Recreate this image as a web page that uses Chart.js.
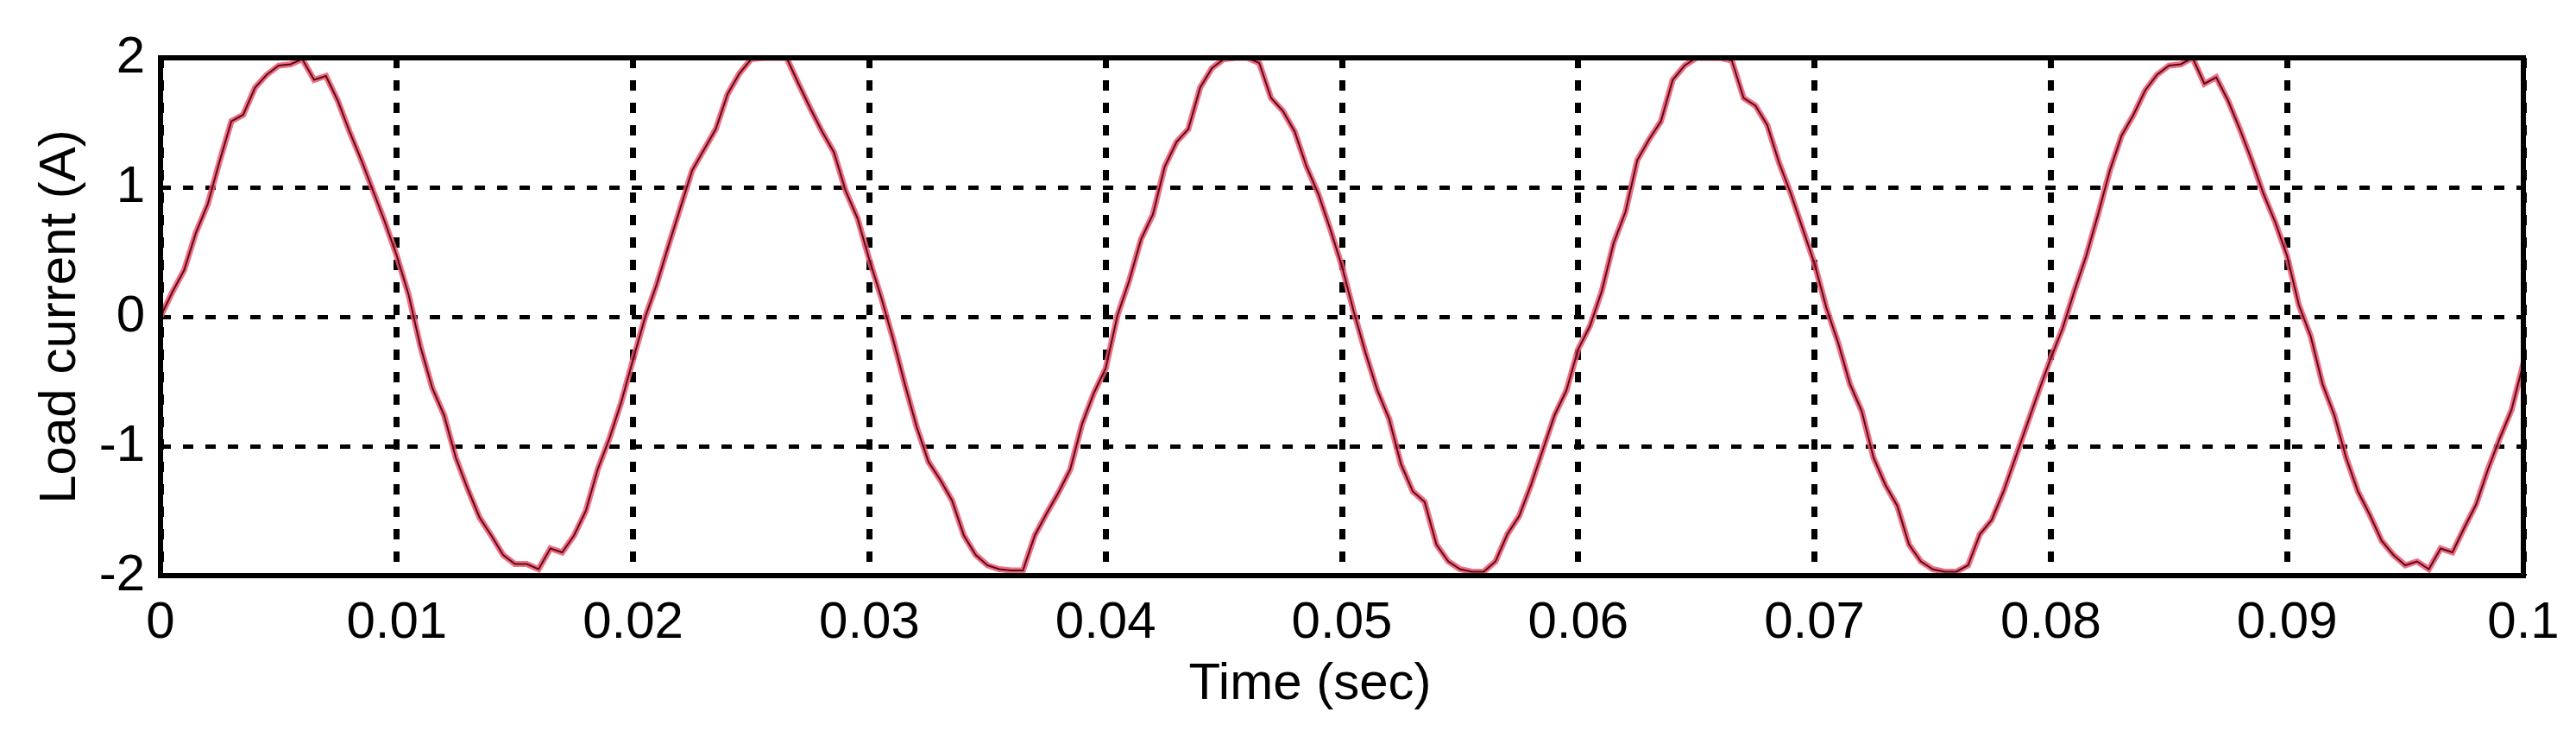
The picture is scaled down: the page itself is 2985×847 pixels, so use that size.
<!DOCTYPE html>
<html>
<head>
<meta charset="utf-8">
<title>Load current</title>
<script src="https://cdn.jsdelivr.net/npm/chart.js@4.4.1/dist/chart.umd.min.js"></script>
<style>
  html, body { margin: 0; padding: 0; background: #ffffff; }
  #wrap { width: 2985px; height: 847px; }
</style>
</head>
<body>
<div id="wrap"><canvas id="chart" width="2985" height="847"></canvas></div>
<script>
// Sample times (sec), read every 0.5 ms
const timeSec = [
  0, 0.0005, 0.001, 0.0015, 0.002, 0.0025, 0.003, 0.0035, 0.004, 0.0045,
  0.005, 0.0055, 0.006, 0.0065, 0.007, 0.0075, 0.008, 0.0085, 0.009, 0.0095,
  0.01, 0.0105, 0.011, 0.0115, 0.012, 0.0125, 0.013, 0.0135, 0.014, 0.0145,
  0.015, 0.0155, 0.016, 0.0165, 0.017, 0.0175, 0.018, 0.0185, 0.019, 0.0195,
  0.02, 0.0205, 0.021, 0.0215, 0.022, 0.0225, 0.023, 0.0235, 0.024, 0.0245,
  0.025, 0.0255, 0.026, 0.0265, 0.027, 0.0275, 0.028, 0.0285, 0.029, 0.0295,
  0.03, 0.0305, 0.031, 0.0315, 0.032, 0.0325, 0.033, 0.0335, 0.034, 0.0345,
  0.035, 0.0355, 0.036, 0.0365, 0.037, 0.0375, 0.038, 0.0385, 0.039, 0.0395,
  0.04, 0.0405, 0.041, 0.0415, 0.042, 0.0425, 0.043, 0.0435, 0.044, 0.0445,
  0.045, 0.0455, 0.046, 0.0465, 0.047, 0.0475, 0.048, 0.0485, 0.049, 0.0495,
  0.05, 0.0505, 0.051, 0.0515, 0.052, 0.0525, 0.053, 0.0535, 0.054, 0.0545,
  0.055, 0.0555, 0.056, 0.0565, 0.057, 0.0575, 0.058, 0.0585, 0.059, 0.0595,
  0.06, 0.0605, 0.061, 0.0615, 0.062, 0.0625, 0.063, 0.0635, 0.064, 0.0645,
  0.065, 0.0655, 0.066, 0.0665, 0.067, 0.0675, 0.068, 0.0685, 0.069, 0.0695,
  0.07, 0.0705, 0.071, 0.0715, 0.072, 0.0725, 0.073, 0.0735, 0.074, 0.0745,
  0.075, 0.0755, 0.076, 0.0765, 0.077, 0.0775, 0.078, 0.0785, 0.079, 0.0795,
  0.08, 0.0805, 0.081, 0.0815, 0.082, 0.0825, 0.083, 0.0835, 0.084, 0.0845,
  0.085, 0.0855, 0.086, 0.0865, 0.087, 0.0875, 0.088, 0.0885, 0.089, 0.0895,
  0.09, 0.0905, 0.091, 0.0915, 0.092, 0.0925, 0.093, 0.0935, 0.094, 0.0945,
  0.095, 0.0955, 0.096, 0.0965, 0.097, 0.0975, 0.098, 0.0985, 0.099, 0.0995,
  0.1
];

// Load current (A) at each sample
const loadCurrent = [
  0, 0.19, 0.36, 0.65, 0.87, 1.2, 1.51, 1.56, 1.77, 1.87,
  1.94, 1.95, 1.99, 1.83, 1.86, 1.67, 1.43, 1.21, 0.97, 0.73,
  0.47, 0.17, -0.23, -0.55, -0.76, -1.09, -1.33, -1.55, -1.69, -1.84,
  -1.91, -1.91, -1.95, -1.79, -1.82, -1.69, -1.5, -1.18, -0.94, -0.66,
  -0.33, -0.01, 0.25, 0.55, 0.84, 1.13, 1.29, 1.45, 1.72, 1.88,
  1.99, 2.0, 2.0, 2.0, 1.8, 1.61, 1.43, 1.27, 0.97, 0.76,
  0.44, 0.15, -0.17, -0.52, -0.85, -1.12, -1.26, -1.42, -1.69, -1.84,
  -1.92, -1.95, -1.96, -1.96, -1.69, -1.52, -1.36, -1.18, -0.83, -0.59,
  -0.4, 0.01, 0.28, 0.6, 0.79, 1.16, 1.35, 1.45, 1.77, 1.92,
  1.99, 2.0, 2.0, 1.96, 1.69, 1.59, 1.43, 1.16, 0.95, 0.68,
  0.39, 0.04, -0.28, -0.57, -0.79, -1.14, -1.35, -1.43, -1.76, -1.89,
  -1.95, -1.97, -1.97, -1.89, -1.68, -1.54, -1.3, -1.03, -0.76, -0.57,
  -0.25, -0.07, 0.2, 0.57, 0.81, 1.21, 1.37, 1.51, 1.83, 1.94,
  2.0, 2.0, 2.0, 1.98, 1.69, 1.63, 1.48, 1.19, 0.95, 0.68,
  0.41, 0.07, -0.2, -0.52, -0.73, -1.09, -1.3, -1.46, -1.76, -1.89,
  -1.95, -1.97, -1.97, -1.92, -1.68, -1.57, -1.35, -1.09, -0.83, -0.57,
  -0.32, -0.09, 0.2, 0.47, 0.79, 1.13, 1.4, 1.56, 1.75, 1.87,
  1.94, 1.95, 2.0, 1.8, 1.85, 1.67, 1.45, 1.21, 0.95, 0.73,
  0.47, 0.09, -0.15, -0.52, -0.76, -1.09, -1.35, -1.53, -1.73, -1.84,
  -1.92, -1.89, -1.95, -1.79, -1.82, -1.63, -1.45, -1.18, -0.94, -0.72,
  -0.36
];

// Axis ranges and ticks
const xRange = [0, 0.1];
const xStep = 0.01;
const yRange = [-2, 2];
const yStep = 1;

const xTitle = "Time (sec)";
const yTitle = "Load current (A)";

const FONT = "'Liberation Sans', Arial, sans-serif";

// Frame around the plot area (MATLAB style box)
const boxPlugin = {
  id: "box",
  afterDatasetsDraw(chart) {
    const { ctx, chartArea } = chart;
    ctx.save();
    ctx.strokeStyle = "#000";
    ctx.lineWidth = 6;
    ctx.strokeRect(chartArea.left, chartArea.top,
      chartArea.right - chartArea.left, chartArea.bottom - chartArea.top);
    ctx.restore();
  }
};

// x label sits a little left of the axis centre in the original figure
const xTitlePlugin = {
  id: "xTitle",
  afterDraw(chart) {
    const { ctx, chartArea } = chart;
    ctx.save();
    ctx.font = `60px ${FONT}`;
    ctx.fillStyle = "#000";
    ctx.textAlign = "center";
    ctx.textBaseline = "middle";
    ctx.fillText(xTitle, (chartArea.left + chartArea.right) / 2 - 37, chartArea.bottom + 126);
    ctx.restore();
  }
};

const points = timeSec.map((t, i) => ({ x: t, y: loadCurrent[i] }));

new Chart(document.getElementById("chart"), {
  type: "line",
  data: {
    datasets: [
      {
        // dark core of the trace
        data: points,
        borderColor: "#5c0a16",
        borderWidth: 2,
        pointRadius: 0,
        tension: 0,
        fill: false
      },
      {
        // reddish halo around it
        data: points,
        borderColor: "rgba(236, 86, 112, 0.85)",
        borderWidth: 7,
        pointRadius: 0,
        tension: 0,
        fill: false
      }
    ]
  },
  options: {
    responsive: false,
    animation: false,
    events: [],
    layout: { padding: { top: 67, right: 61, left: 0, bottom: 0 } },
    plugins: {
      legend: { display: false },
      tooltip: { enabled: false }
    },
    scales: {
      x: {
        type: "linear",
        min: xRange[0],
        max: xRange[1],
        afterFit: (scale) => { scale.height = 180; },
        afterBuildTicks: (scale) => {
          const ticks = [];
          for (let v = xRange[0]; v <= xRange[1] + 1e-9; v += xStep) {
            ticks.push({ value: Number(v.toFixed(2)) });
          }
          scale.ticks = ticks;
        },
        border: { display: false, dash: [12, 14] },
        grid: {
          color: "#000",
          lineWidth: 7,
          drawTicks: false
        },
        ticks: {
          color: "#000",
          font: { family: FONT, size: 60 },
          padding: 19,
          maxRotation: 0,
          autoSkip: false,
          callback: (v) => String(Number(Number(v).toFixed(2)))
        },
        title: { display: false }
      },
      y: {
        min: yRange[0],
        max: yRange[1],
        afterFit: (scale) => { scale.width = 186; },
        ticks: {
          stepSize: yStep,
          color: "#000",
          font: { family: FONT, size: 60 },
          padding: 18
        },
        border: { display: false, dash: [12, 14] },
        grid: {
          color: "#000",
          lineWidth: 5,
          drawTicks: false
        },
        title: {
          display: true,
          text: yTitle,
          color: "#000",
          font: { family: FONT, size: 60 },
          padding: { top: 34, bottom: 0 }
        }
      }
    }
  },
  plugins: [boxPlugin, xTitlePlugin]
});
</script>
</body>
</html>
